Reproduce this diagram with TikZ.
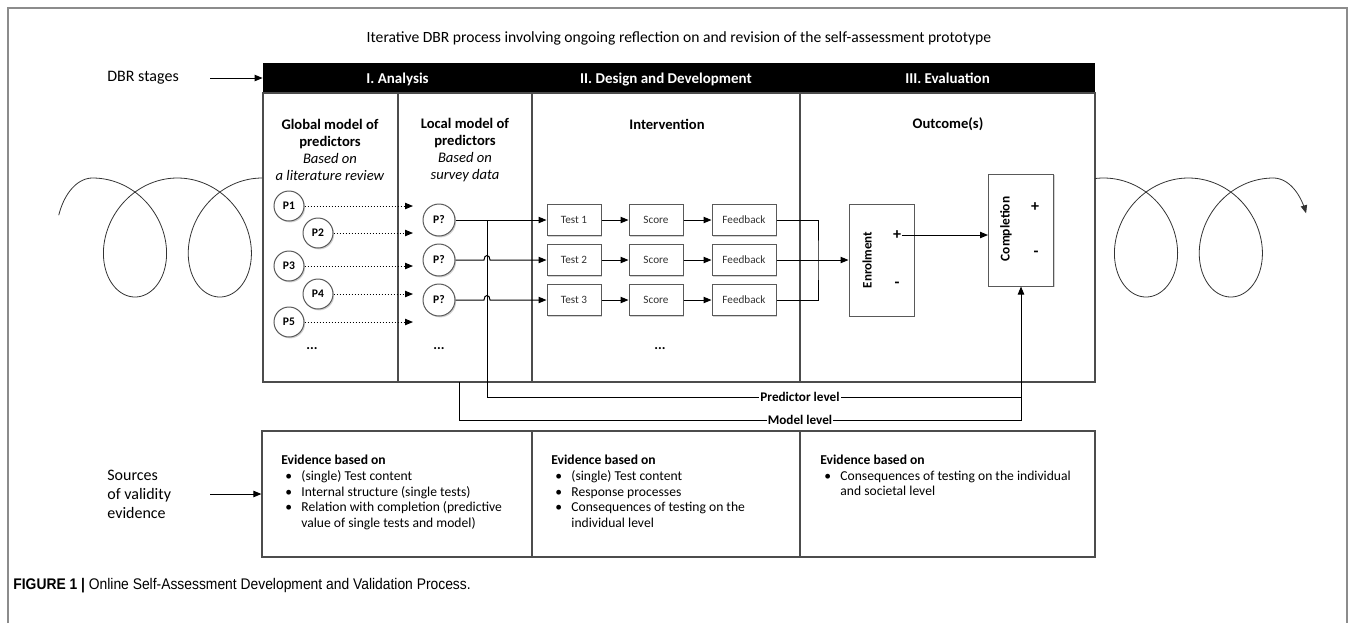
\documentclass[tikz,border=0pt]{standalone}
\usepackage{fontspec}
\setmainfont{Carlito}
\newfontfamily\capfont[FakeStretch=0.9]{Liberation Sans}
\usetikzlibrary{arrows.meta,shadows}

\begin{document}
\begin{tikzpicture}[x=0.5pt, y=-0.5pt,
  arr/.style={-{Triangle[length=4pt,width=3.2pt]}, line width=0.5pt},
  dotarr/.style={arr, densely dotted},
  col/.style={draw=black!70, line width=0.6pt},
  spiral/.style={black!80, line width=0.4pt},
  shade/.style={drop shadow={shadow xshift=0.6pt, shadow yshift=-0.7pt, fill=black!35}},
  pcirc/.style={circle, draw=black!65, line width=0.5pt, fill=white, minimum size=15pt,
    inner sep=0pt, font=\fontsize{5.8}{7}\selectfont\bfseries, shade},
  qcirc/.style={pcirc, minimum size=16pt},
  ivbox/.style={rectangle, draw=black!65, line width=0.5pt, fill=white, minimum width=27pt,
    minimum height=15.5pt, inner sep=0pt, text=black!80, font=\fontsize{5.6}{7}\selectfont, shade},
  outbox/.style={rectangle, draw=black!65, line width=0.5pt, fill=white, minimum width=32.5pt,
    minimum height=56pt, inner sep=0pt, shade},
  colhead/.style={align=center, inner sep=0pt, font=\fontsize{7.3}{8.6}\selectfont},
  hdrlab/.style={anchor=base, text=white, inner sep=0pt, font=\fontsize{7.5}{9}\selectfont\bfseries},
  side/.style={anchor=west, align=left, inner sep=0pt, font=\fontsize{8}{9.5}\selectfont},
  sign/.style={inner sep=0.5pt, font=\fontsize{8}{9}\selectfont\bfseries},
  dots/.style={inner sep=0pt, font=\fontsize{7}{8}\selectfont\bfseries},
  lvl/.style={fill=white, inner sep=0.6pt, font=\fontsize{6.6}{8}\selectfont\bfseries},
  evtext/.style={anchor=west, inner sep=0pt, font=\fontsize{6.8}{7.85}\selectfont}]
  \useasboundingbox (0,0) rectangle (1356,623);
  % Outer frame
  \draw[black!45, line width=0.6pt] (8,623) -- (8,8) -- (1347,8) -- (1347,623);
  % Title
  \node[inner sep=0pt, font=\fontsize{7.8}{9}\selectfont] (title) at (679,38)
    {Iterative DBR process involving ongoing reflection on and revision of the self-assessment prototype};
  % Stage header
  \node[fill=black, minimum width=416pt, minimum height=15pt, inner sep=0pt] (hdr) at (679,78) {};
  \node[hdrlab] (h1) at (397.5,83) {I. Analysis};
  \node[hdrlab] (h2) at (666,83) {II. Design and Development};
  \node[hdrlab] (h3) at (947.5,83) {III. Evaluation};
  \node[side] (dbr) at (107,78) {DBR stages};
  \coordinate (dbrtail) at (210,78);
  \draw[arr] (dbrtail) -- (hdr.west);
  % Columns
  \draw[col] (263,93) rectangle (1095,382);
  \draw[col] (398,93) -- (398,382);
  \draw[col] (532,93) -- (532,382);
  \draw[col] (800,93) -- (800,382);
  \node[colhead] (glob) at (330,150) {\textbf{Global model of}\\\textbf{predictors}\\\textit{Based on}\\\textit{a literature review}};
  \node[colhead] (loc) at (465,150) {\textbf{Local model of}\\\textbf{predictors}\\\textit{Based on}\\\textit{survey data}};
  \node[colhead, font=\fontsize{7.3}{8.6}\selectfont\bfseries] (interv) at (667,124) {Intervention};
  \node[colhead, font=\fontsize{7.3}{8.6}\selectfont\bfseries] (outc) at (948,124) {Outcome(s)};
  % Spirals
  \draw[spiral] plot[domain=158:90, samples=30, variable=\a] ({92.6+36.5*cos(\a)}, {237.5-59.5*sin(\a)});
  \draw[spiral] plot[domain=0:12.566, samples=300, variable=\t] ({92.6+13.5*\t+51*sin(\t r)}, {237.5-59.5*cos(\t r)});
  \draw[spiral] plot[domain=-0.134:12.566, samples=300, variable=\t] ({1103.6+13.5*\t+51*sin(\t r)}, {237.5-59.5*cos(\t r)});
  \draw[spiral, -{Triangle[length=4pt,width=3.2pt]}] plot[domain=90:24, samples=30, variable=\a] ({1273.2+36*cos(\a)}, {237.5-59.5*sin(\a)});
  % Global predictors
  \node[pcirc] (p1) at (289,206) {P1};
  \node[pcirc] (p2) at (318,233) {P2};
  \node[pcirc] (p3) at (289,266) {P3};
  \node[pcirc] (p4) at (318,294) {P4};
  \node[pcirc] (p5) at (289,322) {P5};
  \node[dots] (gdots) at (312,349) {...};
  \coordinate (ptip) at (413,0);
  \foreach \p in {p1,p2,p3,p4,p5}
    \draw[dotarr] (\p) -- (\p -| ptip);
  % Local predictors
  \node[qcirc] (q1) at (439,220) {P?};
  \node[qcirc] (q2) at (439,260) {P?};
  \node[qcirc] (q3) at (439,300) {P?};
  \node[dots] (ldots) at (439,349) {...};
  % Intervention
  \node[ivbox] (t1) at (574,220) {Test 1};
  \node[ivbox] (t2) at (574,260) {Test 2};
  \node[ivbox] (t3) at (574,300) {Test 3};
  \node[ivbox] (s1) at (656,220) {Score};
  \node[ivbox] (s2) at (656,260) {Score};
  \node[ivbox] (s3) at (656,300) {Score};
  \node[ivbox, minimum width=32pt] (f1) at (744,220) {Feedback};
  \node[ivbox, minimum width=32pt] (f2) at (744,260) {Feedback};
  \node[ivbox, minimum width=32pt] (f3) at (744,300) {Feedback};
  \node[dots] (idots) at (660,349) {...};
  \coordinate (predtop) at (487,220);
  \draw[arr] (q1) -- (t1);
  \draw[arr] (q2) -- ([xshift=-1.5pt]predtop |- q2) .. controls +(0,-6) and +(0,-6) .. ([xshift=1.5pt]predtop |- q2) -- (t2);
  \draw[arr] (q3) -- ([xshift=-1.5pt]predtop |- q3) .. controls +(0,-6) and +(0,-6) .. ([xshift=1.5pt]predtop |- q3) -- (t3);
  \foreach \r in {1,2,3} {
    \draw[arr] (t\r) -- (s\r);
    \draw[arr] (s\r) -- (f\r);
  }
  % Outcomes
  \node[outbox] (enr) at (881.5,260) {};
  \node[rotate=90, inner sep=0pt, font=\fontsize{6.5}{8}\selectfont\bfseries] (enrlab) at (867,260) {Enrolment};
  \node[sign] (enrp) at (897,235) {+};
  \node[sign] (enrm) at (897,285) {-};
  \node[outbox] (compl) at (1021,230) {};
  \node[rotate=90, inner sep=0pt, font=\fontsize{6.7}{8}\selectfont\bfseries] (compllab) at (1006,229) {Completion};
  \node[sign] (compp) at (1035,207) {+};
  \node[sign] (compm) at (1036,254) {-};
  \coordinate (join) at (818,260);
  \draw[line width=0.4pt] (f1) -| (join) |- (f3);
  \draw[arr] (f2) -- (enr);
  \draw[arr] (enrp.east) -- (enrp.east -| compl.west);
  % Validation levels
  \coordinate (plev) at (0,397);
  \coordinate (mlev) at (0,420);
  \coordinate (modtop) at (459,382);
  \draw[line width=0.5pt] (predtop) |- (compl.south |- plev);
  \draw[arr] (modtop) |- (compl.south |- mlev) -- (compl.south);
  \node[lvl] (predlab) at (800,397) {Predictor level};
  \node[lvl] (modlab) at (800,420) {Model level};
  % Sources of validity evidence
  \node[draw=black!70, line width=0.6pt, minimum width=416.5pt, minimum height=63pt, inner sep=0pt] (evid) at (678.5,494) {};
  \draw[col] (532,431) -- (532,557);
  \draw[col] (800,431) -- (800,557);
  \node[side] (src) at (107,494) {Sources\\of validity\\evidence};
  \coordinate (srctail) at (210,494);
  \draw[arr] (srctail) -- (evid.west);
  \node[evtext] (ev1) at (281,493) {\begin{tabular}{@{}p{10pt}@{}l@{}}
    \multicolumn{2}{@{}l@{}}{\bfseries Evidence based on}\\
    \hspace{2pt}\textbullet & (single) Test content\\
    \hspace{2pt}\textbullet & Internal structure (single tests)\\
    \hspace{2pt}\textbullet & Relation with completion (predictive\\
    & value of single tests and model)
  \end{tabular}};
  \node[evtext] (ev2) at (551,493) {\begin{tabular}{@{}p{10pt}@{}l@{}}
    \multicolumn{2}{@{}l@{}}{\bfseries Evidence based on}\\
    \hspace{2pt}\textbullet & (single) Test content\\
    \hspace{2pt}\textbullet & Response processes\\
    \hspace{2pt}\textbullet & Consequences of testing on the\\
    & individual level
  \end{tabular}};
  \node[evtext] (ev3) at (820,477) {\begin{tabular}{@{}p{10pt}@{}l@{}}
    \multicolumn{2}{@{}l@{}}{\bfseries Evidence based on}\\
    \hspace{2pt}\textbullet & Consequences of testing on the individual\\
    & and societal level
  \end{tabular}};
  % Caption
  \node[anchor=west, inner sep=0pt, font=\capfont\fontsize{7.7}{9}\selectfont] (cap) at (13,586)
    {\textbf{FIGURE 1 |} Online Self-Assessment Development and Validation Process.};
\end{tikzpicture}
\end{document}
